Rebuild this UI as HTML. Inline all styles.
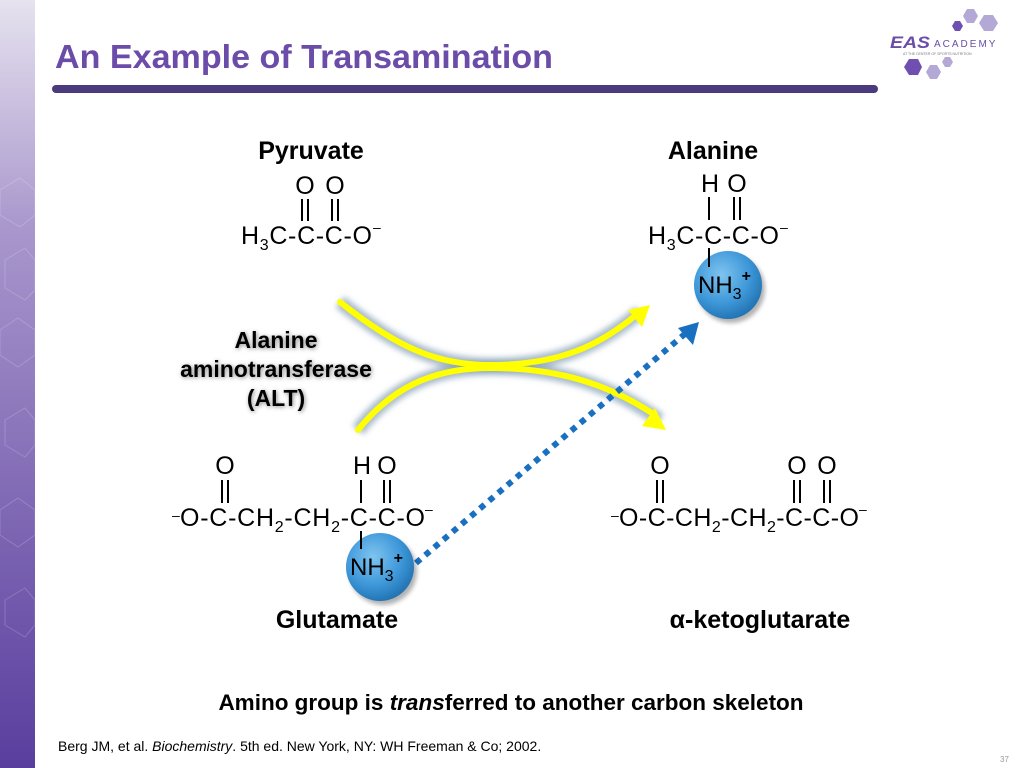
<!DOCTYPE html>
<html><head><meta charset="utf-8"><style>
html,body{margin:0;padding:0;background:#fff;}
svg{display:block;}
text{font-family:"Liberation Sans",Arial,sans-serif;}
</style></head><body>
<svg width="1024" height="768" viewBox="0 0 1024 768" xmlns="http://www.w3.org/2000/svg">
<defs>
<linearGradient id="lg" x1="0" y1="0" x2="0" y2="1">
<stop offset="0" stop-color="#e6e2ef"/><stop offset="0.3" stop-color="#a896cc"/><stop offset="1" stop-color="#5a3e9e"/>
</linearGradient>
<radialGradient id="ball" cx="0.4" cy="0.35" r="0.7">
<stop offset="0" stop-color="#7fc4f0"/><stop offset="0.6" stop-color="#3d97d8"/><stop offset="1" stop-color="#1f6fae"/>
</radialGradient>
<filter id="glow" x="-20%" y="-20%" width="140%" height="140%"><feGaussianBlur stdDeviation="3"/></filter>
<filter id="tsh" x="-10%" y="-10%" width="120%" height="130%"><feGaussianBlur stdDeviation="2"/></filter>
<filter id="bsh" x="-30%" y="-30%" width="160%" height="160%"><feGaussianBlur stdDeviation="2"/></filter>
</defs>
<rect x="0" y="0" width="35" height="768" fill="url(#lg)"/>
<g fill="none" stroke="#ffffff" stroke-opacity="0.18" stroke-width="1">
<polygon points="0,190 20,178 35,190 35,215 20,227 0,215"/>
<polygon points="5,260 25,248 35,260 35,290 25,300 5,288"/>
<polygon points="0,330 18,318 35,330 35,355 18,367 0,355"/>
<polygon points="5,420 25,408 35,420 35,445 25,457 5,445"/>
<polygon points="0,510 18,498 35,510 35,535 18,547 0,535"/>
<polygon points="5,600 25,588 35,600 35,625 25,637 5,625"/>
</g>
<text x="55" y="68" font-size="33" font-weight="bold" fill="#6b4ca8" textLength="498" lengthAdjust="spacingAndGlyphs">An Example of Transamination</text>
<rect x="52" y="85" width="826" height="8" rx="4" fill="#4b3a7c"/>
<g>
<polygon points="963,16 967,9 974,9 978,16 974,23 967,23" fill="#b4a9d6"/>
<polygon points="979,23 984,15 993,15 998,23 993,31 984,31" fill="#b4a9d6"/>
<polygon points="952,26 955,21 960,21 963,26 960,31 955,31" fill="#6f4fb0"/>
<polygon points="904,67 909,59 918,59 922,67 918,75 909,75" fill="#6f4fb0"/>
<polygon points="926,72 930,65 937,65 941,72 937,79 930,79" fill="#b4a9d6"/>
<polygon points="942,62 945,57 950,57 953,62 950,67 945,67" fill="#b4a9d6"/>
<text x="890" y="48" font-size="17" font-weight="bold" font-style="italic" fill="#6b4ca8" textLength="40" lengthAdjust="spacingAndGlyphs">EAS</text>
<text x="934" y="47" font-size="10" fill="#6b4ca8" letter-spacing="2">ACADEMY</text>
<text x="903" y="55" font-size="3.5" fill="#777">AT THE CENTER OF SPORTS NUTRITION</text>
</g>
<g fill="none" stroke="#6f8fa8" stroke-width="14" stroke-opacity="0.6" filter="url(#glow)">
<path d="M340,302 C400,350 440,365 490,365 C560,365 600,345 640,312"/>
<path d="M358,430 C390,390 430,368 490,368 C560,368 610,385 660,420"/>
</g>
<g fill="none" stroke="#ffff00" stroke-width="6" stroke-linecap="round">
<path d="M340,302 C400,350 440,365 490,365 C560,365 600,345 636,315"/>
<path d="M358,430 C390,390 430,368 490,368 C560,368 610,385 655,415"/>
</g>
<polygon points="650,305 642,327 628,310" fill="#ffff00"/>
<polygon points="666,430 642,426 655,408" fill="#ffff00"/>
<line x1="416" y1="563" x2="686" y2="333" stroke="#1a70c0" stroke-width="6" stroke-dasharray="6 6"/>
<polygon points="699,322 693,345 678,328" fill="#1a70c0"/>
<g font-weight="bold" font-size="25" fill="#000" text-anchor="middle">
<text x="311" y="159">Pyruvate</text>
<text x="713" y="159">Alanine</text>
<text x="337" y="628">Glutamate</text>
<text x="760" y="628">α-ketoglutarate</text>
</g>
<g font-weight="bold" font-size="23" text-anchor="middle">
<g fill="#888" filter="url(#tsh)"><text x="277" y="349">Alanine</text><text x="277" y="378">aminotransferase</text><text x="277" y="407">(ALT)</text></g>
<g fill="#000"><text x="276" y="348">Alanine</text><text x="276" y="377">aminotransferase</text><text x="276" y="406">(ALT)</text></g>
</g>
<text x="511" y="710" font-size="22.5" font-weight="bold" text-anchor="middle">Amino group is <tspan font-style="italic">trans</tspan>ferred to another carbon skeleton</text>
<text x="58" y="751" font-size="14">Berg JM, et al. <tspan font-style="italic">Biochemistry</tspan>. 5th ed. New York, NY: WH Freeman &amp; Co; 2002.</text>
<text x="1000" y="762" font-size="8" fill="#999">37</text>
<g font-size="25" fill="#000" stroke="none">
<text x="241" y="244" textLength="131" lengthAdjust="spacing">H<tspan font-size="16" dy="6">3</tspan><tspan dy="-6">C-C-C-O</tspan></text>
<text x="373" y="232" font-size="14">–</text>
<text x="305" y="194" text-anchor="middle">O</text><text x="335" y="194" text-anchor="middle">O</text>
<text x="648" y="244" textLength="131" lengthAdjust="spacing">H<tspan font-size="16" dy="6">3</tspan><tspan dy="-6">C-C-C-O</tspan></text>
<text x="780" y="232" font-size="14">–</text>
<text x="710" y="192" text-anchor="middle">H</text><text x="737" y="192" text-anchor="middle">O</text>
<text x="172" y="520" font-size="14">–</text>
<text x="180" y="526" textLength="245" lengthAdjust="spacing">O-C-CH<tspan font-size="16" dy="6">2</tspan><tspan dy="-6">-CH</tspan><tspan font-size="16" dy="6">2</tspan><tspan dy="-6">-C-C-O</tspan></text>
<text x="425" y="514" font-size="14">–</text>
<text x="225" y="474" text-anchor="middle">O</text><text x="362" y="474" text-anchor="middle">H</text><text x="387" y="474" text-anchor="middle">O</text>
<text x="611" y="520" font-size="14">–</text>
<text x="619" y="526" textLength="240" lengthAdjust="spacing">O-C-CH<tspan font-size="16" dy="6">2</tspan><tspan dy="-6">-CH</tspan><tspan font-size="16" dy="6">2</tspan><tspan dy="-6">-C-C-O</tspan></text>
<text x="859" y="514" font-size="14">–</text>
<text x="660" y="474" text-anchor="middle">O</text><text x="797" y="474" text-anchor="middle">O</text><text x="827" y="474" text-anchor="middle">O</text>
</g>
<g stroke="#000" stroke-width="2">
<line x1="302" y1="199" x2="302" y2="221"/><line x1="308" y1="199" x2="308" y2="221"/>
<line x1="332" y1="199" x2="332" y2="221"/><line x1="338" y1="199" x2="338" y2="221"/>
<line x1="709" y1="197" x2="709" y2="220"/>
<line x1="734" y1="197" x2="734" y2="220"/><line x1="740" y1="197" x2="740" y2="220"/>
<line x1="222" y1="480" x2="222" y2="503"/><line x1="228" y1="480" x2="228" y2="503"/>
<line x1="361" y1="480" x2="361" y2="503"/>
<line x1="384" y1="480" x2="384" y2="503"/><line x1="390" y1="480" x2="390" y2="503"/>
<line x1="657" y1="480" x2="657" y2="503"/><line x1="663" y1="480" x2="663" y2="503"/>
<line x1="794" y1="480" x2="794" y2="503"/><line x1="800" y1="480" x2="800" y2="503"/>
<line x1="824" y1="480" x2="824" y2="503"/><line x1="830" y1="480" x2="830" y2="503"/>
</g>
<circle cx="731" cy="289" r="34" fill="#000" opacity="0.3" filter="url(#bsh)"/>
<circle cx="728" cy="285" r="34" fill="url(#ball)"/>
<circle cx="383" cy="571" r="34" fill="#000" opacity="0.3" filter="url(#bsh)"/>
<circle cx="380" cy="567" r="34" fill="url(#ball)"/>
<g stroke="#000" stroke-width="2">
<line x1="709" y1="248" x2="709" y2="267"/>
<line x1="361" y1="531" x2="361" y2="549"/>
</g>
<g font-size="24" fill="#000">
<text x="698" y="293">NH<tspan font-size="16" dy="6">3</tspan><tspan font-size="16" dy="-18" font-weight="bold">+</tspan></text>
<text x="350" y="575">NH<tspan font-size="16" dy="6">3</tspan><tspan font-size="16" dy="-18" font-weight="bold">+</tspan></text>
</g>
</svg>
</body></html>
